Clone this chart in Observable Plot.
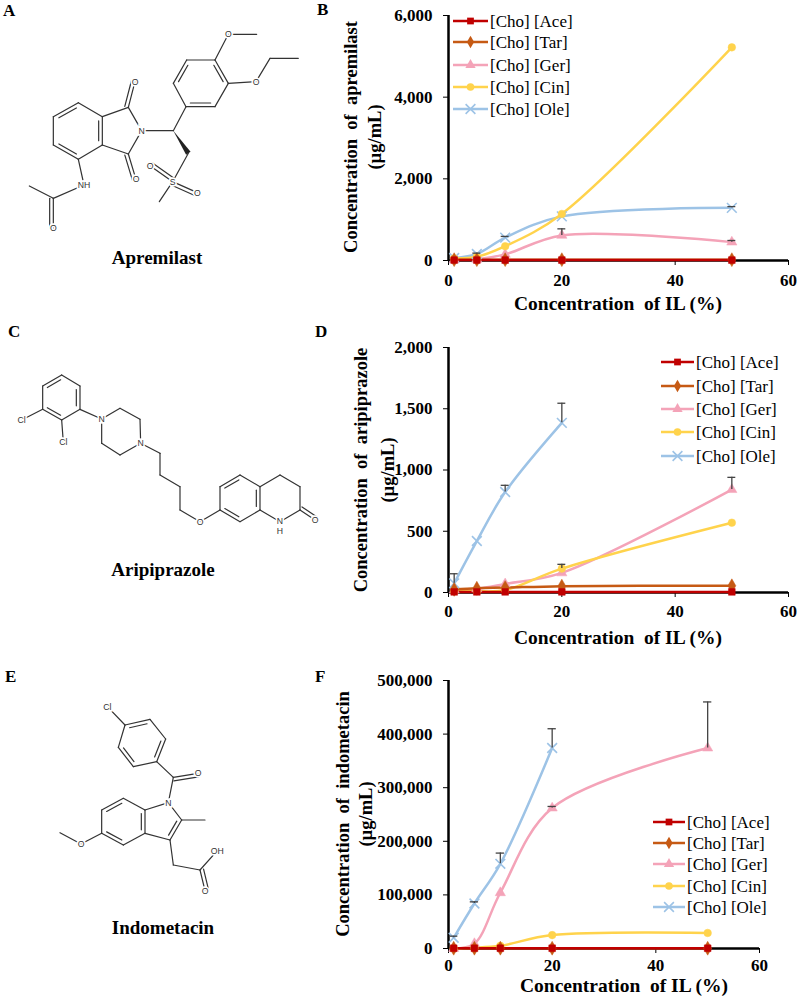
<!DOCTYPE html>
<html>
<head>
<meta charset="utf-8">
<script src="https://cdn.jsdelivr.net/npm/d3@7"></script>
<script src="https://cdn.jsdelivr.net/npm/@observablehq/plot@0.6"></script>
<style>
  body { margin: 0; background: #fff; }
  #root { position: relative; width: 800px; height: 997px; overflow: hidden; font-family: 'Liberation Serif', 'Times New Roman', serif; color: #000; }
  .abs { position: absolute; white-space: pre; }
  .letter { font-weight: bold; font-size: 17px; line-height: 1; }
  .name { font-weight: bold; font-size: 19px; transform: translateX(-50%); line-height: 1; }
  .ytitle { font-weight: bold; font-size: 18.5px; transform: translate(-50%, -50%) rotate(-90deg); line-height: 1; }
  .xtitle { font-weight: bold; font-size: 19.5px; transform: translate(-50%, -50%); line-height: 0.8; }
  .chart { position: absolute; left: 360px; }
  .chart svg text { font-family: 'Liberation Serif', 'Times New Roman', serif !important; font-weight: bold; }
  svg.legend text { font-family: 'Liberation Serif', 'Times New Roman', serif !important; }
</style>
</head>
<body>
<div id="root"></div>
<script>
// ---------- data ----------
const concIL = [1, 5, 10, 20, 50];
const xTicks = [0, 20, 40, 60];
const seriesNames = ["[Cho] [Ace]", "[Cho] [Tar]", "[Cho] [Ger]", "[Cho] [Cin]", "[Cho] [Ole]"];
const seriesColors = ["#C00000", "#C65A14", "#F4A3B8", "#FFD34C", "#9DC3E6"];
const seriesSymbols = ["square", "diamond", "triangle", "circle", "times"];

// B: apremilast (µg/mL)
const aprAce = [10, 10, 10, 10, 10];
const aprTar = [20, 20, 20, 20, 20];
const aprGer = [20, 30, 150, 615, 450];
const aprCin = [50, 90, 350, 1140, 5220];
const aprOle = [60, 160, 560, 1080, 1290];
const aprGerErr = [0, 0, 0, 160, 40];
const aprOleErr = [0, 20, 30, 0, 30];
const aprTicks = [0, 2000, 4000, 6000];

// D: aripiprazole (µg/mL)
const ariAce = [5, 5, 5, 5, 5];
const ariTar = [25, 35, 40, 52, 55];
const ariGer = [20, 30, 70, 160, 840];
const ariCin = [10, 10, 20, 195, 570];
const ariOle = [75, 420, 820, 1385, null];
const ariGerErr = [0, 0, 0, 0, 100];
const ariCinErr = [0, 0, 0, 35, 0];
const ariOleErr = [78, 0, 55, 160, 0];
const ariTicks = [0, 500, 1000, 1500, 2000];

// F: indometacin (µg/mL)
const indAce = [500, 500, 500, 500, 500];
const indTar = [500, 500, 500, 500, 500];
const indGer = [0, 9000, 104000, 262000, 374000];
const indCin = [500, 1500, 5000, 25000, 29000];
const indOle = [20000, 84000, 158000, 374000, null];
const indGerErr = [0, 0, 0, 3000, 86000];
const indOleErr = [3000, 3000, 20000, 36000, 0];
const indTicks = [0, 100000, 200000, 300000, 400000, 500000];

// ---------- helpers ----------
const root = document.getElementById("root");
function addDiv(cls, text, style) {
  const d = document.createElement("div");
  d.className = "abs " + cls;
  d.textContent = text;
  Object.assign(d.style, style);
  root.appendChild(d);
  return d;
}

function makeChart(cfg) {
  const seriesVals = cfg.series;
  const rows = [];
  seriesNames.forEach((name, si) => {
    seriesVals[si].forEach((v, i) => {
      if (v != null) rows.push({series: name, x: concIL[i], y: v});
    });
  });
  const errRows = [];
  cfg.errors.forEach(([si, errs]) => {
    errs.forEach((e, i) => {
      const v = seriesVals[si][i];
      if (e > 0 && v != null) errRows.push({x: concIL[i], y: v, top: v + e, xl: concIL[i] - cfg.cap, xr: concIL[i] + cfg.cap});
    });
  });
  const drawOrder = [4, 2, 3, 1, 0];
  const marks = [
    Plot.ruleX([0], {stroke: "#000", strokeWidth: 2.5}),
    Plot.ruleY([0], {stroke: "#000", strokeWidth: 2.5})
  ];
  drawOrder.forEach(si => {
    const name = seriesNames[si];
    const data = rows.filter(r => r.series === name);
    marks.push(Plot.line(data, {x: "x", y: "y", stroke: seriesColors[si], strokeWidth: 2.5, curve: "catmull-rom"}));
  });
  drawOrder.forEach(si => {
    const name = seriesNames[si];
    const data = rows.filter(r => r.series === name);
    if (seriesSymbols[si] === "times") {
      marks.push(Plot.dot(data, {x: "x", y: "y", symbol: "times", stroke: seriesColors[si], strokeWidth: 1.6, r: 4.5}));
    } else {
      marks.push(Plot.dot(data, {x: "x", y: "y", symbol: seriesSymbols[si], fill: seriesColors[si], stroke: seriesColors[si], strokeWidth: 0.5, r: seriesSymbols[si] === "diamond" ? 4.2 : 3.8}));
    }
  });
  marks.push(Plot.ruleX(errRows, {x: "x", y1: "y", y2: "top", stroke: "#444", strokeWidth: 1.3}));
  marks.push(Plot.ruleY(errRows, {y: "top", x1: "xl", x2: "xr", stroke: "#444", strokeWidth: 1.3}));

  const svg = Plot.plot({
    width: 440,
    height: cfg.height,
    marginLeft: 88,
    marginRight: cfg.marginRight,
    marginTop: cfg.marginTop,
    marginBottom: cfg.marginBottom,
    x: {domain: [0, 60], ticks: xTicks, tickSize: 5, tickPadding: cfg.xPad, label: null, tickFormat: d3.format("d")},
    y: {domain: [0, cfg.yMax], ticks: cfg.yTicks, tickSize: 5, tickPadding: 11, label: null, tickFormat: d3.format(",")},
    style: {fontFamily: "'Liberation Serif', 'Times New Roman', serif", fontSize: "17px", fontWeight: "bold", color: "#000", background: "transparent", overflow: "visible"},
    marks
  });
  const wrap = document.createElement("div");
  wrap.className = "chart";
  wrap.style.top = cfg.top + "px";
  wrap.appendChild(svg);
  root.appendChild(wrap);

  // legend
  const lg = d3.select(root).append("svg").attr("class", "legend")
    .style("position", "absolute").style("left", "0px").style("top", "0px")
    .attr("width", 800).attr("height", 997).style("overflow", "visible").style("pointer-events", "none");
  const types = {square: d3.symbolSquare, diamond: d3.symbolDiamond, triangle: d3.symbolTriangle, circle: d3.symbolCircle, times: d3.symbolTimes};
  seriesNames.forEach((name, si) => {
    const y = cfg.legend.y[si];
    const x0 = cfg.legend.x0, x1 = cfg.legend.x1;
    lg.append("line").attr("x1", x0).attr("x2", x1).attr("y1", y).attr("y2", y)
      .attr("stroke", seriesColors[si]).attr("stroke-width", 2.5);
    const r = seriesSymbols[si] === "times" ? 4.5 : 3.8;
    const p = lg.append("path").attr("d", d3.symbol(types[seriesSymbols[si]], r * r * Math.PI)())
      .attr("transform", `translate(${(x0 + x1) / 2},${y})`);
    if (seriesSymbols[si] === "times") p.attr("fill", "none").attr("stroke", seriesColors[si]).attr("stroke-width", 1.6);
    else p.attr("fill", seriesColors[si]);
    lg.append("text").attr("x", x1 + 2).attr("y", y).attr("dy", "0.35em")
      .attr("font-size", 17).attr("fill", "#000").text(name);
  });
}

// ---------- charts ----------
makeChart({
  top: 0, height: 320, marginTop: 15, marginBottom: 60, marginRight: 12, xPad: 8,
  yMax: 6000, yTicks: aprTicks, cap: 0.7,
  series: [aprAce, aprTar, aprGer, aprCin, aprOle],
  errors: [[2, aprGerErr], [4, aprOleErr]],
  legend: {x0: 453, x1: 488, y: [21, 42, 65, 87, 109]}
});
makeChart({
  top: 320, height: 320, marginTop: 27, marginBottom: 48, marginRight: 12, xPad: 7,
  yMax: 2000, yTicks: ariTicks, cap: 0.7,
  series: [ariAce, ariTar, ariGer, ariCin, ariOle],
  errors: [[2, ariGerErr], [3, ariCinErr], [4, ariOleErr]],
  legend: {x0: 661, x1: 694, y: [362, 386, 409, 432, 456]}
});
makeChart({
  top: 640, height: 357, marginTop: 40, marginBottom: 49, marginRight: 41, xPad: 5,
  yMax: 500000, yTicks: indTicks, cap: 0.8,
  series: [indAce, indTar, indGer, indCin, indOle],
  errors: [[2, indGerErr], [4, indOleErr]],
  legend: {x0: 653, x1: 685, y: [822, 843, 864, 886, 907]}
});

// ---------- axis titles ----------
addDiv("xtitle", "Concentration  of IL (%)", {left: "618px", top: "304px"});
addDiv("xtitle", "Concentration  of IL (%)", {left: "618px", top: "638px"});
addDiv("xtitle", "Concentration  of IL (%)", {left: "624px", top: "986px"});
addDiv("ytitle", "Concentration  of  apremilast", {left: "351px", top: "137px"});
addDiv("ytitle", "(µg/mL)", {left: "375px", top: "137px"});
addDiv("ytitle", "Concentration  of  aripiprazole", {left: "361px", top: "470px"});
addDiv("ytitle", "(µg/mL)", {left: "388px", top: "470px"});
addDiv("ytitle", "Concentration  of  indometacin", {left: "343px", top: "814px"});
addDiv("ytitle", "(µg/mL)", {left: "366px", top: "814px"});

// ---------- panel letters and names ----------
addDiv("letter", "A", {left: "3px", top: "2px"});
addDiv("letter", "B", {left: "317px", top: "1px"});
addDiv("letter", "C", {left: "8px", top: "323px"});
addDiv("letter", "D", {left: "315px", top: "323px"});
addDiv("letter", "E", {left: "5px", top: "668px"});
addDiv("letter", "F", {left: "315px", top: "668px"});
addDiv("name", "Apremilast", {left: "157px", top: "248px"});
addDiv("name", "Aripiprazole", {left: "163px", top: "560px"});
addDiv("name", "Indometacin", {left: "163px", top: "918px"});

// ---------- structure drawings (illustrations) ----------
function molecule(left, top, w, h, atoms, bonds, labels) {
  const s = d3.select(root).append("svg")
    .style("position", "absolute").style("left", left + "px").style("top", top + "px")
    .attr("width", w).attr("height", h).attr("viewBox", `0 0 ${w * 3} ${h * 3}`);
  const g = s.append("g").attr("stroke", "#333").attr("stroke-width", 3.6).attr("fill", "none").attr("stroke-linecap", "round");
  bonds.forEach(b => {
    const [a, c, type, ref] = b;
    const A = atoms[a], C = atoms[c];
    if (type === "wedge") {
      const dx = C[0] - A[0], dy = C[1] - A[1], L = Math.hypot(dx, dy);
      const nx = -dy / L * 8, ny = dx / L * 8;
      s.append("polygon").attr("points", `${A[0]},${A[1]} ${C[0] + nx},${C[1] + ny} ${C[0] - nx},${C[1] - ny}`).attr("fill", "#222");
      return;
    }
    g.append("line").attr("x1", A[0]).attr("y1", A[1]).attr("x2", C[0]).attr("y2", C[1]);
    if (type === "in" || type === "side") {
      const dx = C[0] - A[0], dy = C[1] - A[1], L = Math.hypot(dx, dy);
      let nx = -dy / L, ny = dx / L;
      if (type === "in") {
        const ctr = ref;
        const mx = (A[0] + C[0]) / 2 - ctr[0], my = (A[1] + C[1]) / 2 - ctr[1];
        if (nx * mx + ny * my > 0) { nx = -nx; ny = -ny; }
        const o = 11, sh = 0.15;
        g.append("line")
          .attr("x1", A[0] + dx * sh + nx * o).attr("y1", A[1] + dy * sh + ny * o)
          .attr("x2", C[0] - dx * sh + nx * o).attr("y2", C[1] - dy * sh + ny * o);
      } else {
        const o = 11 * ref;
        g.append("line")
          .attr("x1", A[0] + nx * o).attr("y1", A[1] + ny * o)
          .attr("x2", C[0] + nx * o).attr("y2", C[1] + ny * o);
      }
    }
  });
  labels.forEach(([a, t, dx, dy]) => {
    const A = atoms[a];
    s.append("text").attr("x", A[0] + (dx || 0)).attr("y", A[1] + (dy || 0)).attr("dy", "0.35em")
      .attr("text-anchor", "middle").attr("font-family", "'Liberation Sans', Arial, sans-serif")
      .attr("font-size", 26).attr("fill", "#333")
      .attr("stroke", "#fff").attr("stroke-width", 10).attr("paint-order", "stroke").text(t);
  });
}
function ctr(atoms, keys) {
  return [d3.mean(keys, k => atoms[k][0]), d3.mean(keys, k => atoms[k][1])];
}

// Apremilast
{
  const a = {
    b1: [235, 308], b2: [160, 350], b3: [160, 435], b4: [235, 478], b5: [307, 435], b6: [307, 350],
    c1: [385, 322], N: [425, 392], c3: [385, 462], o1: [405, 245], o3: [408, 538],
    ch: [520, 392], q1: [558, 320], q2: [520, 250], q3: [560, 180], q4: [645, 180], q5: [685, 250], q6: [645, 320],
    oMe: [685, 103], me1: [770, 103], oEt: [768, 245], et1: [810, 175], et2: [895, 175],
    ch2: [565, 460], S: [518, 545], os1: [450, 497], os2: [592, 578], sMe: [478, 605],
    nh: [252, 555], ca: [160, 595], cMe: [88, 558], oa: [160, 685]
  };
  const cb = ctr(a, ["b1", "b2", "b3", "b4", "b5", "b6"]);
  const cq = ctr(a, ["q1", "q2", "q3", "q4", "q5", "q6"]);
  molecule(0, 0, 320, 300, a, [
    ["b1", "b2", "in", cb], ["b2", "b3"], ["b3", "b4", "in", cb], ["b4", "b5"], ["b5", "b6", "in", cb], ["b6", "b1"],
    ["b6", "c1"], ["c1", "N"], ["N", "c3"], ["c3", "b5"], ["c1", "o1", "side", -1], ["c3", "o3", "side", 1],
    ["N", "ch"], ["ch", "q1"],
    ["q1", "q2"], ["q2", "q3", "in", cq], ["q3", "q4"], ["q4", "q5", "in", cq], ["q5", "q6"], ["q6", "q1", "in", cq],
    ["q4", "oMe"], ["oMe", "me1"], ["q5", "oEt"], ["oEt", "et1"], ["et1", "et2"],
    ["ch", "ch2", "wedge"], ["ch2", "S"], ["S", "os1", "side", 1], ["S", "os2", "side", 1], ["S", "sMe"],
    ["b4", "nh"], ["nh", "ca"], ["ca", "cMe"], ["ca", "oa", "side", 1]
  ], [["o1", "O"], ["o3", "O"], ["N", "N"], ["oMe", "O"], ["oEt", "O"], ["S", "S"], ["os1", "O"], ["os2", "O"], ["nh", "NH"], ["oa", "O"]]);
}

// Aripiprazole
{
  const a = {
    r1: [185, 165], r2: [128, 198], r3: [128, 268], r4: [185, 300], r5: [240, 268], r6: [240, 198],
    cl1: [65, 300], cl2: [190, 367],
    n1: [305, 297], p1: [360, 265], p2: [420, 298], n2: [422, 370], p3: [360, 405], p4: [305, 370],
    k1: [480, 400], k2: [480, 465], k3: [540, 500], k4: [540, 570], o: [600, 605],
    s1: [660, 500], s2: [720, 465], s3: [780, 500], s4: [780, 570], s5: [720, 605], s6: [660, 570],
    t1: [840, 465], t2: [900, 500], t3: [900, 570], nh: [840, 605], oc: [945, 600]
  };
  const cr = ctr(a, ["r1", "r2", "r3", "r4", "r5", "r6"]);
  const cs = ctr(a, ["s1", "s2", "s3", "s4", "s5", "s6"]);
  molecule(0, 320, 320, 300, a, [
    ["r1", "r2", "in", cr], ["r2", "r3"], ["r3", "r4", "in", cr], ["r4", "r5"], ["r5", "r6", "in", cr], ["r6", "r1"],
    ["r3", "cl1"], ["r4", "cl2"], ["r5", "n1"],
    ["n1", "p1"], ["p1", "p2"], ["p2", "n2"], ["n2", "p3"], ["p3", "p4"], ["p4", "n1"],
    ["n2", "k1"], ["k1", "k2"], ["k2", "k3"], ["k3", "k4"], ["k4", "o"], ["o", "s6"],
    ["s1", "s2", "in", cs], ["s2", "s3"], ["s3", "s4", "in", cs], ["s4", "s5"], ["s5", "s6", "in", cs], ["s6", "s1"],
    ["s3", "t1"], ["t1", "t2"], ["t2", "t3"], ["t3", "nh"], ["nh", "s4"], ["t3", "oc", "side", -1]
  ], [["cl1", "Cl"], ["cl2", "Cl"], ["n1", "N"], ["n2", "N"], ["o", "O"], ["nh", "N", 0, -2], ["nh", "H", 0, 28], ["oc", "O"]]);
}

// Indometacin
{
  const a = {
    cl: [322, 200], a: [375, 255], b: [450, 238], c: [497, 297], d: [470, 365], e: [400, 380], f: [355, 322],
    cc: [520, 412], oc: [594, 400], n: [505, 488], c2: [545, 540], me: [615, 540], c3: [510, 600],
    c3a: [435, 580], c7a: [435, 510], k1: [370, 475], k2: [305, 510], k3: [305, 580], k4: [370, 615],
    om: [243, 612], me2: [180, 578], ch2: [520, 675], cx: [600, 690], oh: [652, 632], ox: [615, 752]
  };
  const cp = ctr(a, ["a", "b", "c", "d", "e", "f"]);
  const ck = ctr(a, ["c7a", "k1", "k2", "k3", "k4", "c3a"]);
  const c5 = ctr(a, ["n", "c2", "c3", "c3a", "c7a"]);
  molecule(0, 640, 320, 320, a, [
    ["cl", "a"], ["a", "b", "in", cp], ["b", "c"], ["c", "d", "in", cp], ["d", "e"], ["e", "f", "in", cp], ["f", "a"],
    ["d", "cc"], ["cc", "oc", "side", 1], ["cc", "n"], ["n", "c2"], ["c2", "me"], ["c2", "c3", "in", c5],
    ["c3", "c3a"], ["c3a", "c7a", "in", ck], ["c7a", "n"],
    ["c7a", "k1"], ["k1", "k2", "in", ck], ["k2", "k3"], ["k3", "k4", "in", ck], ["k4", "c3a"],
    ["k3", "om"], ["om", "me2"], ["c3", "ch2"], ["ch2", "cx"], ["cx", "oh"], ["cx", "ox", "side", -1]
  ], [["cl", "Cl"], ["oc", "O"], ["n", "N"], ["om", "O"], ["oh", "OH"], ["ox", "O"]]);
}
</script>
</body>
</html>
